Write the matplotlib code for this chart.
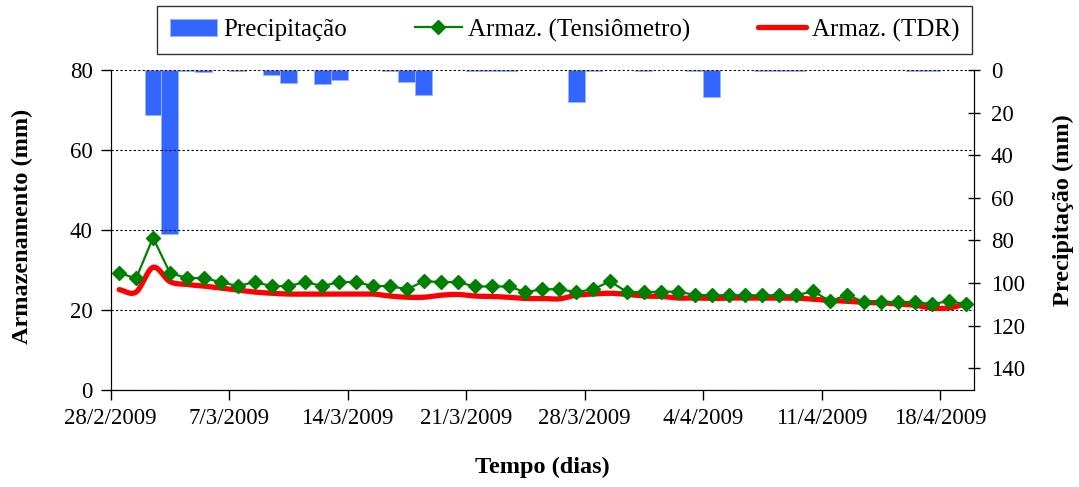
import matplotlib
matplotlib.use("Agg")
import matplotlib.pyplot as plt
import matplotlib.dates as mdates
import numpy as np
from datetime import datetime, timedelta

plt.rcParams['font.family'] = ['Liberation Serif', 'DejaVu Serif']

# daily series, 28/2/2009 .. 19/4/2009
start = datetime(2009, 2, 28)
n_days = 51
days = [start + timedelta(days=i, hours=12) for i in range(n_days)]

# storage from tensiometers (mm)
armaz_tens = [29.2, 27.8, 38.0, 29.2, 27.9, 27.9, 26.9, 25.9, 26.9, 25.9,
              25.9, 26.9, 25.9, 26.9, 26.9, 25.9, 25.9, 25.1, 27.1, 26.9,
              26.9, 25.8, 25.8, 25.8, 24.4, 25.1, 25.1, 24.4, 25.1, 27.1,
              24.4, 24.4, 24.5, 24.5, 23.7, 23.6, 23.6, 23.6, 23.6, 23.6,
              23.6, 24.6, 22.1, 23.7, 21.9, 21.9, 21.9, 21.9, 21.4, 22.1,
              21.4]

# storage from TDR (mm)
armaz_tdr = [25.0, 24.4, 30.6, 27.0, 26.3, 25.9, 25.4, 24.9, 24.4, 24.1,
             23.9, 23.9, 23.9, 23.9, 23.9, 23.9, 23.4, 23.1, 23.1, 23.6,
             23.8, 23.4, 23.3, 23.1, 22.8, 22.8, 22.7, 23.6, 23.9, 24.1,
             23.8, 23.4, 23.3, 22.9, 22.9, 22.8, 22.9, 22.9, 22.9, 22.9,
             22.9, 22.6, 22.3, 22.1, 21.8, 21.7, 21.4, 21.1, 20.4, 20.4,
             21.4]

# daily rainfall (mm)
precip = [0, 0, 21, 77, 0.5, 1, 0, 0.5, 0, 2.5,
          6.3, 0, 6.6, 4.5, 0, 0, 0.5, 5.6, 11.7, 0,
          0, 0.5, 0.5, 0.5, 0, 0, 0, 15, 0.5, 0,
          0, 0.5, 0, 0, 0.5, 12.8, 0, 0, 0.5, 0.5,
          0.5, 0, 0, 0, 0, 0, 0, 0.5, 0.5, 0,
          0]


def smooth(x, y, steps=12):
    # Catmull-Rom pass so the TDR curve bends like a smoothed line
    x = np.asarray(x, float)
    y = np.asarray(y, float)
    px = np.concatenate([[2 * x[0] - x[1]], x, [2 * x[-1] - x[-2]]])
    py = np.concatenate([[2 * y[0] - y[1]], y, [2 * y[-1] - y[-2]]])
    t = np.linspace(0, 1, steps, endpoint=False)[:, None]
    out = []
    for p in (px, py):
        p0, p1, p2, p3 = p[:-3], p[1:-2], p[2:-1], p[3:]
        seg = 0.5 * (2 * p1 + (-p0 + p2) * t + (2 * p0 - 5 * p1 + 4 * p2 - p3) * t ** 2
                     + (-p0 + 3 * p1 - 3 * p2 + p3) * t ** 3)
        out.append(np.concatenate([seg.T.ravel(), [p[-2]]]))
    return out


fig = plt.figure(figsize=(10.79, 4.87), dpi=100)
ax = fig.add_axes([0.1026, 0.2002, 0.8001, 0.6561])
ax2 = ax.twinx()
# keep the lines above the rain bars
ax.set_zorder(ax2.get_zorder() + 1)
ax.patch.set_visible(False)

xnum = mdates.date2num(days)
p = np.array(precip)
wet = p > 0
bars = ax2.bar(xnum[wet], p[wet], width=1.0, color='#3366FF', edgecolor='#9DB5FF',
               linewidth=0.6, label='Precipitação')
ax2.set_ylim(150, 0)
ax2.set_yticks(np.arange(0, 141, 20))

l_tens, = ax.plot(xnum, armaz_tens, color='#008000', lw=1.6, marker='D', ms=7,
                  label='Armaz. (Tensiômetro)', zorder=4)
sx, sy = smooth(xnum, armaz_tdr)
l_tdr, = ax.plot(sx, sy, color='#FF0000', lw=3.8, solid_capstyle='round',
                 label='Armaz. (TDR)', zorder=3)

ax.set_ylim(0, 80)
ax.set_yticks(np.arange(0, 81, 20))
ax.set_xlim(mdates.date2num(start), mdates.date2num(start + timedelta(days=n_days)))
ax.xaxis.set_major_locator(mdates.WeekdayLocator(byweekday=mdates.SA))
ax.xaxis.set_major_formatter(plt.FuncFormatter(
    lambda v, pos: "{0.day}/{0.month}/{0.year}".format(mdates.num2date(v))))

ax.grid(axis='y', color='black', linestyle=(0, (2, 2)), linewidth=0.8)
for a in (ax, ax2):
    a.spines['top'].set_visible(False)
ax.tick_params(axis='both', labelsize=16.5, length=7, width=1, direction='out', pad=6)
ax2.tick_params(axis='y', labelsize=16.5, length=8, width=1, direction='inout', pad=8)

ax.set_xlabel('Tempo (dias)', fontsize=17.5, fontweight='bold')
ax.xaxis.set_label_coords(0.5, -0.21)
ax.set_ylabel('Armazenamento (mm)', fontsize=17.5, fontweight='bold')
ax.yaxis.set_label_coords(-0.09, 0.51)
ax2.set_ylabel('Precipitação (mm)', fontsize=17.5, fontweight='bold')
ax2.yaxis.set_label_coords(1.091, 0.56)

leg = fig.legend([bars, l_tens, l_tdr], ['Precipitação', 'Armaz. (Tensiômetro)', 'Armaz. (TDR)'],
                 loc='upper left', bbox_to_anchor=(157 / 1079, 1 - 6 / 487, 815 / 1079, 0),
                 mode='expand', ncol=3, fontsize=18, frameon=True, fancybox=False,
                 edgecolor='black', handlelength=1.9, handletextpad=0.25,
                 borderpad=0.5, borderaxespad=0)
leg.get_frame().set_linewidth(1.0)

fig.savefig('out.png', dpi=100)
